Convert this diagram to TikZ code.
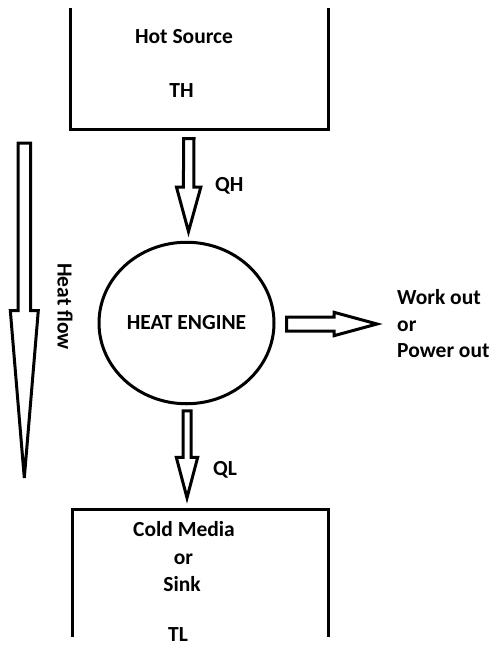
\documentclass[tikz,border=0pt]{standalone}
\usepackage{fontspec}
\setmainfont{Carlito}
\usetikzlibrary{shapes.geometric, calc}

% hollow block arrow: tail, tip, half shaft, half head, head length
\newcommand\fatarrow[5]{%
  \draw[fat] let \p1=(#1), \p2=(#2), \n1={atan2(\y2-\y1,\x2-\x1)} in
    ($(\p1)+(\n1+90:#3)$) -- ($(\p2)+(\n1+180:#5)+(\n1+90:#3)$)
    -- ($(\p2)+(\n1+180:#5)+(\n1+90:#4)$) -- (\p2)
    -- ($(\p2)+(\n1+180:#5)+(\n1-90:#4)$)
    -- ($(\p2)+(\n1+180:#5)+(\n1-90:#3)$)
    -- ($(\p1)+(\n1-90:#3)$) -- cycle;}

\begin{document}
\begin{tikzpicture}[x=1pt, y=1pt,
        txt/.style={font=\fontsize{21.5}{26.5}\selectfont\bfseries, inner sep=0pt, text height=13.8pt, text depth=0pt},
        multi/.style={font=\fontsize{21.5}{26.5}\selectfont\bfseries, inner sep=0pt, align=left},
        tank/.style={rectangle, inner sep=0pt},
        wall/.style={line width=3pt},
        enginebox/.style={ellipse, draw, line width=3pt, minimum width=175, minimum height=161.5, inner sep=0pt, font=\fontsize{21.5}{26.5}\selectfont\bfseries},
        fat/.style={draw, line width=3pt}
    ]
    \useasboundingbox (0,0) rectangle (492,-648);

    % reservoirs
    \node[tank, minimum width=257, minimum height=121] (hot) at (199.5,-68.5) {};
    \draw[wall] (hot.north west) |- (hot.south east) -- (hot.north east);
    \node[txt] (hotname) at (184,-37) {Hot Source};
    \node[txt] (th) at (181.5,-90.5) {TH};

    \node[tank, minimum width=255.5, minimum height=127] (cold) at (200.25,-573.5) {};
    \draw[wall] (cold.south west) |- (cold.north east) -- (cold.south east);
    \node[txt] (coldname) at (184,-530) {Cold Media};
    \node[txt] (coldor) at (183.5,-558) {or};
    \node[txt] (sink) at (182,-585) {Sink};
    \node[txt] (tl) at (178,-634.5) {TL};

    % engine and output
    \node[enginebox] (engine) at (186.5,-323) {HEAT ENGINE};
    \node[multi, anchor=west] (work) at (397,-324) {Work out\\or\\Power out};

    % arrow ends
    \coordinate (qhtail) at ($(hot.south -| engine.north)+(2.3,-9.5)$);
    \coordinate (qhtip) at ($(engine.north)+(2,9.2)$);
    \coordinate (qltail) at ($(engine.south)+(0.5,-5.5)$);
    \coordinate (qltip) at ($(cold.north -| engine.south)+(0.5,12)$);
    \coordinate (worktail) at ($(engine.east)+(11,-1)$);
    \coordinate (worktip) at ($(work.west)+(-20,0)$);
    \coordinate (flowtail) at (24.3,-143);
    \coordinate (flowtip) at (24.3,-478);

    \fatarrow{qhtail}{qhtip}{5.2pt}{12.2pt}{44.5pt}
    \fatarrow{qltail}{qltip}{4pt}{10.7pt}{40.5pt}
    \fatarrow{worktail}{worktip}{7pt}{11.7pt}{43pt}
    \fatarrow{flowtail}{flowtip}{6.2pt}{14pt}{167.5pt}

    % labels
    \node[txt, anchor=west] (qh) at (215,-185) {QH};
    \node[txt, anchor=west] (ql) at (213,-468.5) {QL};
    \node[txt, rotate=-90] (flow) at (64.5,-306.5) {Heat flow};

\end{tikzpicture}
\end{document}
